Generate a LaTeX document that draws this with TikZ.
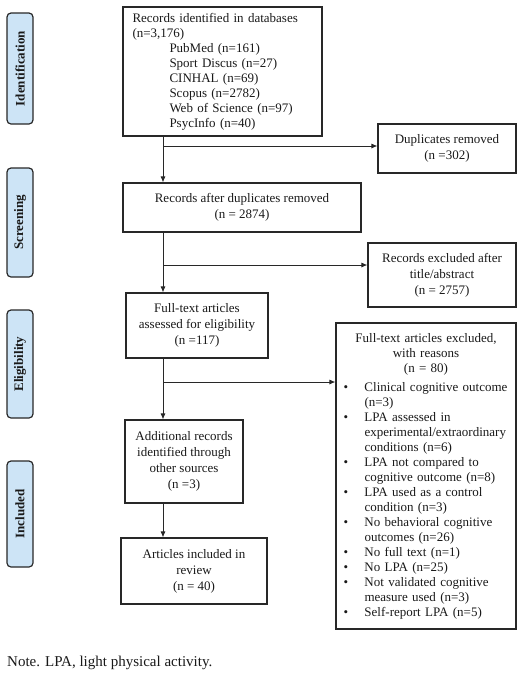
\documentclass[tikz,border=0pt]{standalone}
\usepackage{fontspec}
\setmainfont{Liberation Serif}
\usetikzlibrary{arrows.meta,calc}
\definecolor{tabfill}{RGB}{205,228,246}
\definecolor{lineclr}{RGB}{40,40,40}
\definecolor{txt}{RGB}{25,25,25}
\newcommand\bl{\makebox[21pt][l]{\textbullet}}
\newcommand\cl{\hspace*{21pt}}
\newcommand\hd[1]{\makebox[165pt][c]{#1}}
\begin{document}
\begin{tikzpicture}[x=1pt,y=-1pt,
  box/.style={draw=lineclr,line width=1.1pt,text=txt,align=center,inner sep=0pt,font=\fontsize{13}{16}\selectfont},
  tab/.style={draw=lineclr,fill=tabfill,line width=1.2pt,rounded corners=4pt,inner sep=0pt,text=txt,font=\bfseries\fontsize{13}{15}\selectfont,rotate=90},
  arr/.style={draw=lineclr,line width=0.9pt,-{Latex[length=6pt,width=5pt]}}]
\useasboundingbox (0,0) rectangle (520,673);
% side tabs
\node[tab,minimum width=111pt,minimum height=26pt] (t1) at (20,68.5) {Identification};
\node[tab,minimum width=109pt,minimum height=26pt] (t2) at (20,222.5) {Screening};
\node[tab,minimum width=108pt,minimum height=26pt] (t3) at (20,364) {Eligibility};
\node[tab,minimum width=106pt,minimum height=26pt] (t4) at (20,514) {Included};
% boxes
\node[box,text width=180pt,inner xsep=9.5pt,minimum height=129pt,align=left,font=\fontsize{13}{15}\selectfont] (id) at (222.5,71.5)
  {Records identified in databases\\(n=3,176)\\
   \hspace*{37pt}PubMed (n=161)\\
   \hspace*{37pt}Sport Discus (n=27)\\
   \hspace*{37pt}CINHAL (n=69)\\
   \hspace*{37pt}Scopus (n=2782)\\
   \hspace*{37pt}Web of Science (n=97)\\
   \hspace*{37pt}PsycInfo (n=40)};
\node[box,minimum width=138pt,minimum height=49pt] (dup) at (447,148.5) {Duplicates removed\\(n =302)};
\node[box,minimum width=238pt,minimum height=49pt] (scr) at (242,207.5) {Records after duplicates removed\\(n = 2874)};
\node[box,minimum width=148pt,minimum height=64pt] (excl1) at (442,275) {Records excluded after\\title/abstract\\(n = 2757)};
\node[box,minimum width=142pt,minimum height=65pt] (full) at (197,325.5) {Full-text articles\\assessed for eligibility\\(n =117)};
\node[box,text width=165pt,inner xsep=7.5pt,minimum height=306pt,align=left,font=\fontsize{13}{15}\selectfont] (excl2) at (426,476)
  {\hd{Full-text articles excluded,}\\\hd{with reasons}\\\hd{(n = 80)}\\[4pt]
   \bl Clinical cognitive outcome\\\cl (n=3)\\
   \bl LPA assessed in\\\cl experimental/extraordinary\\\cl conditions (n=6)\\
   \bl LPA not compared to\\\cl cognitive outcome (n=8)\\
   \bl LPA used as a control\\\cl condition (n=3)\\
   \bl No behavioral cognitive\\\cl outcomes (n=26)\\
   \bl No full text (n=1)\\
   \bl No LPA (n=25)\\
   \bl Not validated cognitive\\\cl measure used (n=3)\\
   \bl Self-report LPA (n=5)};
\node[box,minimum width=118pt,minimum height=83pt] (add) at (184,461.5) {Additional records\\identified through\\other sources\\(n =3)};
\node[box,minimum width=146pt,minimum height=66pt] (inc) at (194,571) {Articles included in\\review\\(n = 40)};
% note
\node[anchor=west,text=txt,font=\fontsize{15}{18}\selectfont,inner sep=0pt] (note) at (7,663) {Note. LPA, light physical activity.};
% connectors
\coordinate (b1) at (163,146);
\coordinate (b2) at (163,265);
\coordinate (b3) at (163,382);
\draw[arr] (id.south -| b1) -- (scr.north -| b1);
\draw[arr] (b1) -- (b1 -| dup.west);
\draw[arr] (scr.south -| b2) -- (full.north -| b2);
\draw[arr] (b2) -- (b2 -| excl1.west);
\draw[arr] (full.south -| b3) -- (add.north -| b3);
\draw[arr] (b3) -- (b3 -| excl2.west);
\draw[arr] (add.south -| b3) -- (inc.north -| b3);
\end{tikzpicture}
\end{document}
